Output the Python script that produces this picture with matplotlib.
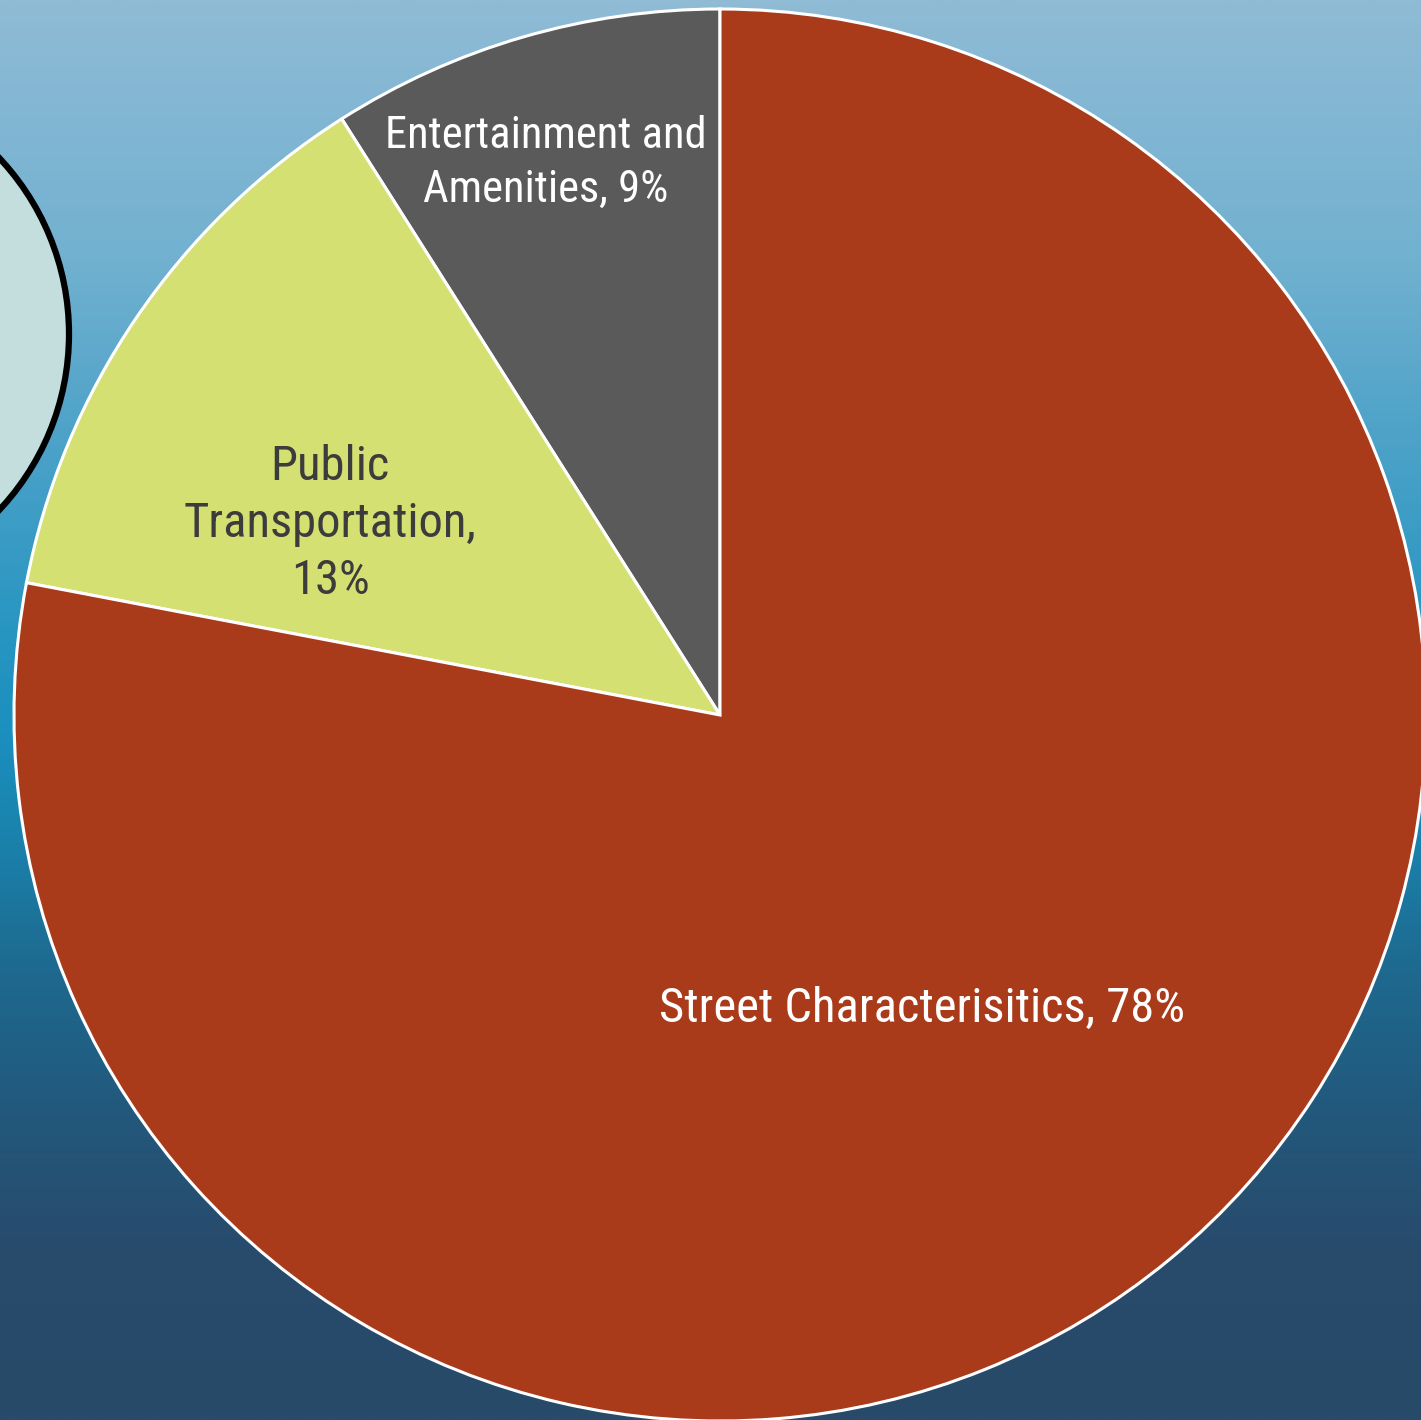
import numpy as np
import matplotlib.pyplot as plt
from matplotlib.colors import LinearSegmentedColormap
from matplotlib.patches import Circle

plt.rcParams['font.family'] = ['Roboto Condensed', 'Roboto', 'DejaVu Sans']

# data
labels = ['Entertainment and\nAmenities, 9%', 'Public\nTransportation,\n13%', 'Street Characterisitics, 78%']
values = [9, 13, 78]

# style
colors = ['#5a5a5a', '#d5e073', '#a93a1a']
text_colors = ['white', '#3c3c3c', 'white']
text_sizes = [32, 35, 35]
# label placement (fraction of radius, angle in degrees)
label_pos = [(0.82, 107.5), (0.615, 153.9), (0.505, -55.4)]

W, H = 1421, 1420
fig = plt.figure(figsize=(W / 100, H / 100), dpi=100)
ax = fig.add_axes([0, 0, 1, 1])

# background gradient (top -> bottom)
bg = LinearSegmentedColormap.from_list('bg', [
    (0.0, '#8fbbd5'), (0.18, '#72b1d0'), (0.30, '#4fa3c9'),
    (0.43, '#2b97c2'), (0.52, '#1a8fbe'), (0.60, '#1a80aa'),
    (0.68, '#1e6a90'), (0.78, '#22597d'), (0.88, '#284b6c'), (1.0, '#294a69')])
grad = np.linspace(0, 1, 512).reshape(-1, 1)
ax.imshow(grad, cmap=bg, extent=[0, W, 0, H], aspect='auto', origin='upper', zorder=0)

# partial circle on the left
ax.add_patch(Circle((-188, H - 334), 257, facecolor='#c4dedd', edgecolor='black', lw=4.5, zorder=1))

cx, cy, r = 720, H - 715, 706
wedges, _ = ax.pie(values, colors=colors, startangle=90, counterclock=True,
                   center=(cx, cy), radius=r, frame=True,
                   wedgeprops=dict(edgecolor='white', linewidth=2.2))
for w in wedges:
    w.set_zorder(2)
ax.set_xlim(0, W)
ax.set_ylim(0, H)
ax.set_aspect('equal')
ax.axis('off')

for lab, tc, fs, (d, a) in zip(labels, text_colors, text_sizes, label_pos):
    x = cx + d * r * np.cos(np.radians(a))
    y = cy + d * r * np.sin(np.radians(a))
    ax.text(x, y, lab, ha='center', va='center', color=tc, fontsize=fs,
            linespacing=1.38 if fs < 35 else 1.3, zorder=3)

fig.savefig('out.png', dpi=100)
